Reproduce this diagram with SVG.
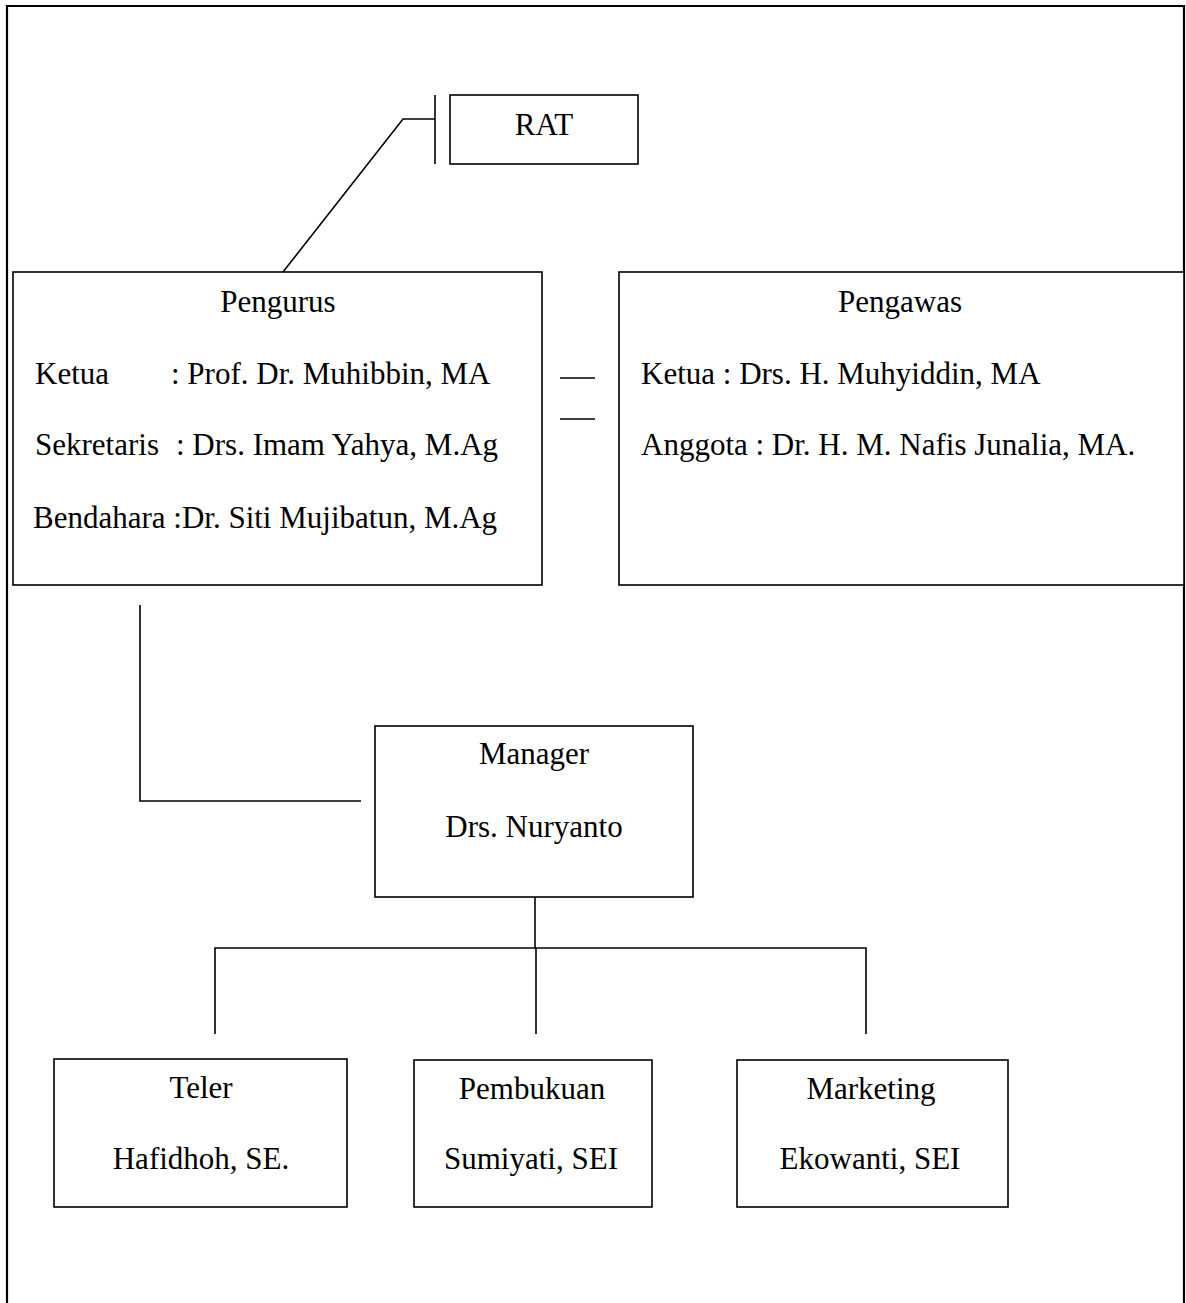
<svg xmlns="http://www.w3.org/2000/svg" width="1186" height="1303" viewBox="0 0 1186 1303">
<style>
.box{fill:#fff;stroke:#000;stroke-width:1.6}
.ln{fill:none;stroke:#000;stroke-width:1.6}
.t{font-family:"Liberation Serif","Times New Roman",serif;font-size:31px;fill:#000}
.c{text-anchor:middle}
</style>
<rect width="1186" height="1303" fill="#fff"/>
<g id="frame"><path d="M7,1310 V6 H1184 V1310" fill="none" stroke="#000" stroke-width="2.2"/></g>
<g id="connectors">
<path class="ln" d="M435,95 V164"/>
<path class="ln" d="M283,272 L403,119 H435"/>
<path class="ln" d="M560,378 H595"/>
<path class="ln" d="M560,419 H595"/>
<path class="ln" d="M140,605 V801 H361"/>
<path class="ln" d="M535,897 V948"/>
<path class="ln" d="M215,1034 V948 H866 V1034"/>
<path class="ln" d="M536,948 V1034"/>
</g>
<g id="rat">
<rect class="box" x="450" y="95" width="188" height="69"/>
<text class="t c" x="544" y="135">RAT</text>
</g>
<g id="pengurus">
<rect class="box" x="13" y="272" width="529" height="313"/>
<text class="t c" x="278" y="312">Pengurus</text>
<text class="t" x="35" y="384">Ketua</text>
<text class="t" x="171" y="384">: Prof. Dr. Muhibbin, MA</text>
<text class="t" x="35" y="455">Sekretaris</text>
<text class="t" x="176" y="455">: Drs. Imam Yahya, M.Ag</text>
<text class="t" x="33" y="528">Bendahara :Dr. Siti Mujibatun, M.Ag</text>
</g>
<g id="pengawas">
<rect class="box" x="619" y="272" width="565" height="313"/>
<text class="t c" x="900" y="312">Pengawas</text>
<text class="t" x="641" y="384">Ketua : Drs. H. Muhyiddin, MA</text>
<text class="t" x="641" y="455">Anggota : Dr. H. M. Nafis Junalia, MA.</text>
</g>
<g id="manager">
<rect class="box" x="375" y="726" width="318" height="171"/>
<text class="t c" x="534" y="764">Manager</text>
<text class="t c" x="534" y="837">Drs. Nuryanto</text>
</g>
<g id="teler">
<rect class="box" x="54" y="1059" width="293" height="148"/>
<text class="t c" x="201" y="1098">Teler</text>
<text class="t c" x="201" y="1169">Hafidhoh, SE.</text>
</g>
<g id="pembukuan">
<rect class="box" x="414" y="1060" width="238" height="147"/>
<text class="t c" x="532" y="1099">Pembukuan</text>
<text class="t c" x="531" y="1169">Sumiyati, SEI</text>
</g>
<g id="marketing">
<rect class="box" x="737" y="1060" width="271" height="147"/>
<text class="t c" x="871" y="1099">Marketing</text>
<text class="t c" x="870" y="1169">Ekowanti, SEI</text>
</g>
</svg>
